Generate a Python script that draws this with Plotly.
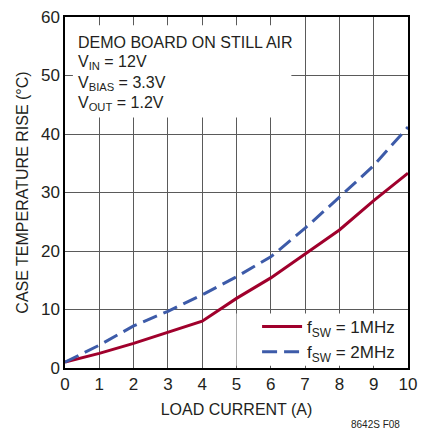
import plotly.graph_objects as go

# Load current (A)
load_current = [0, 1, 2, 3, 4, 5, 6, 7, 8, 9, 10]
# Case temperature rise (°C)
rise_1mhz = [1.0, 2.5, 4.2, 6.1, 8.0, 11.9, 15.4, 19.5, 23.6, 28.6, 33.3]
rise_2mhz = [1.0, 3.9, 7.2, 9.7, 12.5, 15.6, 19.0, 23.9, 29.2, 34.6, 41.2]

x_ticks = list(range(0, 11))
y_ticks = [0, 10, 20, 30, 40, 50, 60]

FONT = "Liberation Sans Narrow, Arial Narrow, Liberation Sans, sans-serif"
RED = "#A0002C"
BLUE = "#3D5BA9"
GRID = "#5a5a5a"
INK = "#231f20"

fig = go.Figure()
fig.add_trace(go.Scatter(
    x=load_current, y=rise_1mhz, mode="lines",
    name="f<sub>SW</sub> = 1MHz",
    line=dict(color=RED, width=3),
))
fig.add_trace(go.Scatter(
    x=load_current, y=rise_2mhz, mode="lines",
    name="f<sub>SW</sub> = 2MHz",
    line=dict(color=BLUE, width=3, dash="15px,7px"),
))

# white panels that hide the grid behind the condition text and the legend
fig.add_shape(type="rect", xref="x", yref="y", x0=0.23, x1=6.6, y0=42.8, y1=58.6,
              fillcolor="white", line_width=0, layer="between")
fig.add_shape(type="rect", xref="x", yref="y", x0=5.0, x1=10, y0=0.4, y1=9.3,
              fillcolor="white", line_width=0, layer="between")

conditions = [
    "DEMO BOARD ON STILL AIR",
    "V<sub>IN</sub> = 12V",
    "V<sub>BIAS</sub> = 3.3V",
    "V<sub>OUT</sub> = 1.2V",
]
cond_y = [55.6, 52.2, 48.6, 45.3]
for txt, yy in zip(conditions, cond_y):
    fig.add_annotation(x=0.33, y=yy, xref="x", yref="y", text=txt,
                       showarrow=False, xanchor="left", yanchor="middle",
                       font=dict(family=FONT, size=16, color=INK))

fig.add_annotation(x=1.0, y=0.0, xref="paper", yref="paper", xshift=-6, yshift=-64,
                   text="8642S F08", showarrow=False, xanchor="right", yanchor="bottom",
                   font=dict(family=FONT, size=10, color=INK))

axis_common = dict(
    showgrid=True, gridcolor=GRID, gridwidth=1,
    showline=True, linecolor="black", linewidth=1.5, mirror=True,
    ticks="", zeroline=False, ticklabeloverflow="allow",
    tickfont=dict(family=FONT, size=17, color=INK),
)

fig.update_xaxes(range=[0, 10], tickvals=x_ticks,
                 title=dict(text="LOAD CURRENT (A)", standoff=11,
                            font=dict(family=FONT, size=16, color=INK)),
                 **axis_common)
fig.update_yaxes(range=[0, 60], tickvals=y_ticks,
                 title=dict(text="CASE TEMPERATURE RISE (°C)", standoff=8,
                            font=dict(family=FONT, size=16, color=INK)),
                 **axis_common)

fig.update_layout(
    width=425, height=436,
    margin=dict(l=65, r=8, t=17, b=68),
    plot_bgcolor="white", paper_bgcolor="white",
    showlegend=True,
    legend=dict(x=0.56, y=0.168, xanchor="left", yanchor="top",
                bgcolor="rgba(0,0,0,0)", borderwidth=0,
                font=dict(family=FONT, size=17, color=INK),
                tracegroupgap=0, itemwidth=40),
)

fig.write_html("out.html")
